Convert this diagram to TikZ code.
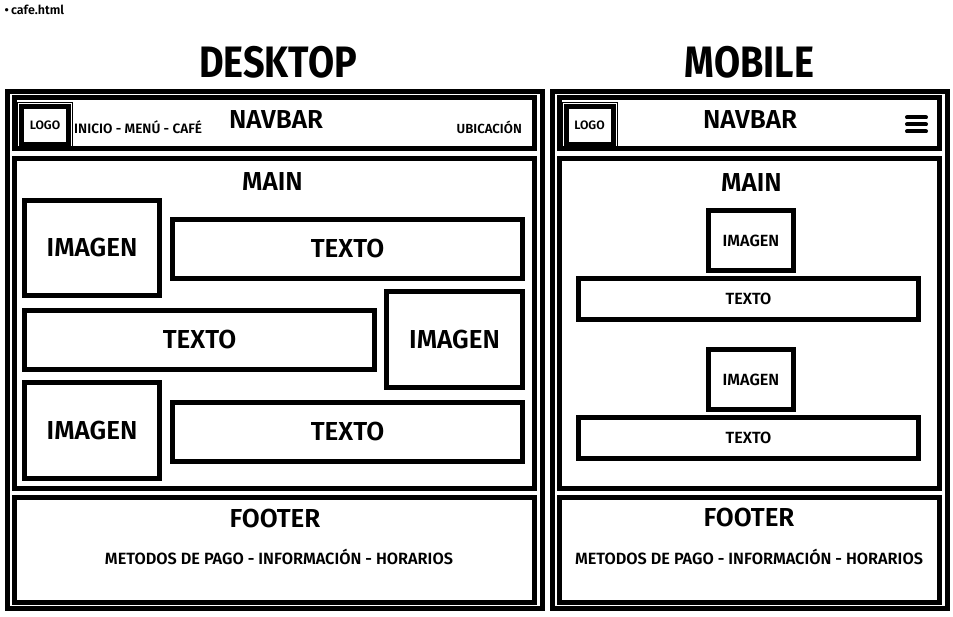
\documentclass[tikz,border=0pt]{standalone}
\usepackage{fontspec}
\setmainfont{Fira Sans}
\newfontfamily\titlefont{Fira Sans}[FakeStretch=0.86]
\newfontfamily\medfont{Fira Sans SemiBold}
\begin{document}
\begin{tikzpicture}[x=1pt,y=-1pt,
  box/.style={draw, line width=5pt, inner sep=0pt, outer sep=0pt, align=center},
  thinring/.style={line width=1pt},
  ttl/.style={font=\titlefont\fontsize{44}{44}\selectfont\bfseries, inner sep=0pt},
  sect/.style={font=\medfont\fontsize{26}{26}\selectfont, inner sep=0pt},
  big/.style={font=\medfont\fontsize{26}{26}\selectfont},
  small/.style={font=\medfont\fontsize{16.2}{16.2}\selectfont},
  tiny/.style={font=\medfont\fontsize{13.2}{13.2}\selectfont, inner sep=0pt},
  links/.style={font=\medfont\fontsize{13.6}{13.6}\selectfont, inner sep=0pt},
  logot/.style={font=\medfont\fontsize{12.2}{12.2}\selectfont, inner sep=0pt},
  foottxt/.style={font=\medfont\fontsize{16.3}{16.3}\selectfont, inner sep=0pt},
  burger/.style={line width=4pt, line cap=round}]
\useasboundingbox[fill=white] (0,0) rectangle (953,617);

% file name
\node[font=\medfont\fontsize{12.5}{12.5}\selectfont, anchor=west, inner sep=0pt] (fname) at (4.5,10) {\textbullet\,cafe.html};

% titles
\node[ttl] (tdesk) at (278,62) {DESKTOP};
\node[ttl] (tmob) at (749.5,62) {MOBILE};

% ===== desktop =====
\node[box, minimum width=535, minimum height=517] (dframe) at (275,350) {};
\node[box, minimum width=520, minimum height=51] (dnav) at (274.5,123) {};
\node[box, minimum width=520, minimum height=330] (dmain) at (274.5,323.5) {};
\node[box, minimum width=520, minimum height=105] (dfoot) at (274.5,550) {};

\node[box, minimum width=47, minimum height=38] (dlogo) at (45,125.5) {};
\node[logot] (dlogot) at (dlogo) {LOGO};
\draw[thinring] ([shift={(-4,-4)}]dlogo.north west) rectangle ([shift={(4,4)}]dlogo.south east);
\node[links, anchor=west] (dlinks) at (74,127) {INICIO - MENÚ - CAFÉ};
\node[tiny, anchor=east] (dubic) at (522,127) {UBICACIÓN};
\node[sect] (dnavt) at (276,120) {NAVBAR};

\node[sect] (dmaint) at (272.5,182) {MAIN};
\node[box, big, minimum width=135, minimum height=95] (dimg1) at (92,248) {IMAGEN};
\node[box, big, minimum width=350, minimum height=59] (dtxt1) at (347.5,249) {TEXTO};
\node[box, big, minimum width=350, minimum height=59] (dtxt2) at (199.5,340) {TEXTO};
\node[box, big, minimum width=136, minimum height=96] (dimg2) at (454.5,339.5) {IMAGEN};
\node[box, big, minimum width=135, minimum height=96] (dimg3) at (92,430.5) {IMAGEN};
\node[box, big, minimum width=350, minimum height=59] (dtxt3) at (347.5,432) {TEXTO};

\node[sect] (dfoott) at (275,519) {FOOTER};
\node[foottxt] (dfootl) at (279,557) {METODOS DE PAGO - INFORMACIÓN - HORARIOS};

% ===== mobile =====
\node[box, minimum width=395, minimum height=517] (mframe) at (750,350) {};
\node[box, minimum width=380, minimum height=51] (mnav) at (749.5,123) {};
\node[box, minimum width=380, minimum height=330] (mmain) at (749.5,323.5) {};
\node[box, minimum width=380, minimum height=105] (mfoot) at (749.5,550) {};

\node[box, minimum width=47, minimum height=38] (mlogo) at (589.5,125.5) {};
\node[logot] (mlogot) at (mlogo) {LOGO};
\draw[thinring] ([shift={(-4,-4)}]mlogo.north west) rectangle ([shift={(4,4)}]mlogo.south east);
\node[sect] (mnavt) at (750,120) {NAVBAR};
\coordinate (hb1) at (907,117.5);
\coordinate (he1) at (926,117.5);
\coordinate (hb2) at (907,124.5);
\coordinate (he2) at (926,124.5);
\coordinate (hb3) at (907,131.5);
\coordinate (he3) at (926,131.5);
\draw[burger] (hb1) -- (he1);
\draw[burger] (hb2) -- (he2);
\draw[burger] (hb3) -- (he3);

\node[sect] (mmaint) at (751.5,183) {MAIN};
\node[box, small, minimum width=85, minimum height=60] (mimg1) at (751,240.5) {IMAGEN};
\node[box, small, minimum width=340, minimum height=41] (mtxt1) at (748.5,299) {TEXTO};
\node[box, small, minimum width=85, minimum height=60] (mimg2) at (751,379.5) {IMAGEN};
\node[box, small, minimum width=340, minimum height=41] (mtxt2) at (748.5,438) {TEXTO};

\node[sect] (mfoott) at (749,518) {FOOTER};
\node[foottxt] (mfootl) at (749,557) {METODOS DE PAGO - INFORMACIÓN - HORARIOS};
\end{tikzpicture}
\end{document}
